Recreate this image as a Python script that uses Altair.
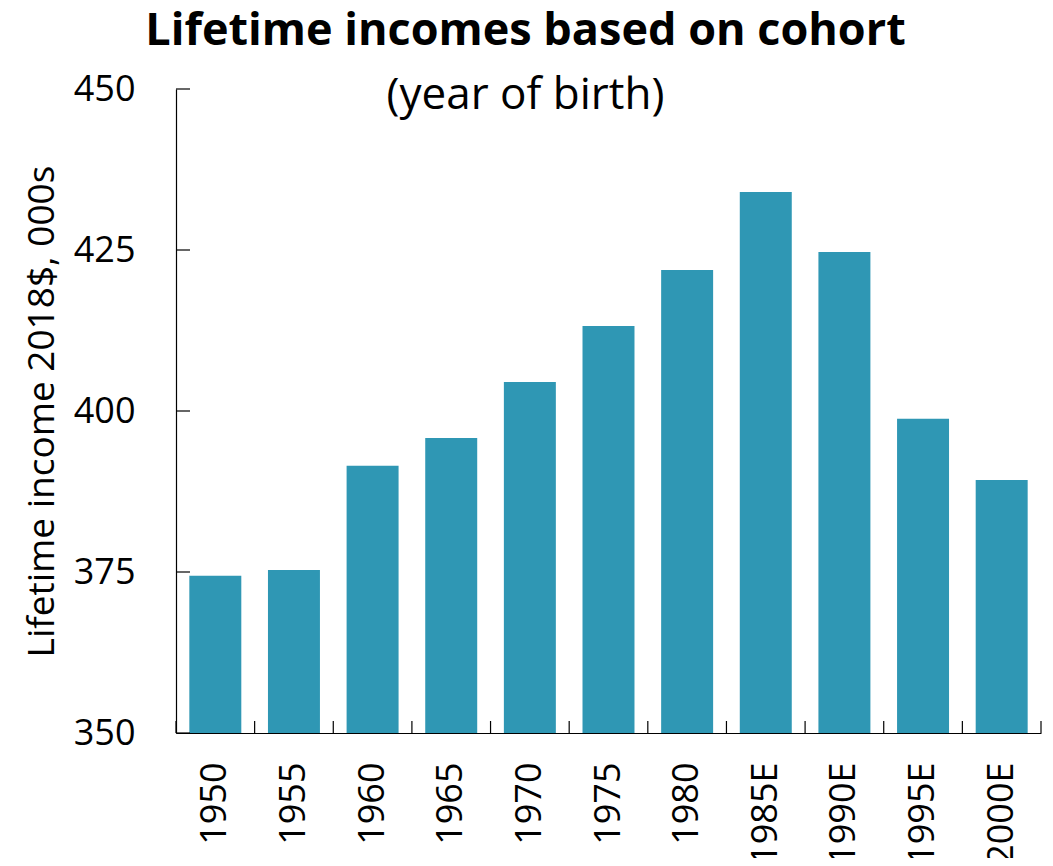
import altair as alt
import pandas as pd

cohorts = ["1950", "1955", "1960", "1965", "1970", "1975", "1980", "1985E", "1990E", "1995E", "2000E"]
incomes = [374.4, 375.3, 391.5, 395.8, 404.5, 413.2, 421.9, 434.0, 424.7, 398.8, 389.3]
y_ticks = [350, 375, 400, 425, 450]

W, H = 865, 644
PI = 0.339
FONT = "Open Sans"
BAR = "#2f97b4"
GAP = PI / 2 * W / len(cohorts)

df = pd.DataFrame({"cohort": cohorts, "income": incomes})
ticks_df = pd.DataFrame({"v": y_ticks})
last_df = pd.DataFrame({"cohort": cohorts[-1:]})

xscale = alt.Scale(domain=cohorts, paddingInner=PI, paddingOuter=PI / 2)
yscale = alt.Scale(domain=[350, 450], zero=False, nice=False)

bars = alt.Chart(df).mark_bar(color=BAR).encode(
    x=alt.X("cohort:N", sort=cohorts, scale=xscale,
            axis=alt.Axis(title=None, labelAngle=-90, labelPadding=29, ticks=False, grid=False,
                          labelFontSize=36, labelFont=FONT, labelColor="black",
                          domainColor="black", domainWidth=1.2)),
    y=alt.Y("income:Q", scale=yscale,
            axis=alt.Axis(title="Lifetime income 2018$, 000s", values=y_ticks, ticks=False,
                          grid=False,
                          labelFontSize=36, labelFont=FONT, labelColor="black",
                          labelPadding=41, titleFontSize=37, titleFont=FONT,
                          titleFontWeight="normal", titleColor="black", titlePadding=12,
                          domainColor="black", domainWidth=1.2)),
    y2=alt.datum(350),
)

xticks = alt.Chart(df).mark_rule(color="black", strokeWidth=1.2, xOffset=-GAP).encode(
    x=alt.X("cohort:N", sort=cohorts, scale=xscale, bandPosition=0),
    y=alt.value(H - 12), y2=alt.value(H),
)
xlast = alt.Chart(last_df).mark_rule(color="black", strokeWidth=1.2, xOffset=GAP).encode(
    x=alt.X("cohort:N", sort=cohorts, scale=xscale, bandPosition=1),
    y=alt.value(H - 12), y2=alt.value(H),
)
yticks = alt.Chart(ticks_df).mark_rule(color="black", strokeWidth=1.2).encode(
    y=alt.Y("v:Q", scale=yscale),
    x=alt.value(0), x2=alt.value(14),
)

chart = alt.layer(bars, xticks, xlast, yticks).properties(
    width=W, height=H,
    autosize=alt.AutoSizeParams(type="none"),
    padding={"left": 168, "top": 81, "right": 4, "bottom": 125},
    title=alt.TitleParams(
        text="Lifetime incomes based on cohort",
        subtitle="(year of birth)",
        font=FONT, fontSize=45, fontWeight="bold", color="black",
        subtitleFont=FONT, subtitleFontSize=44, subtitleColor="black",
        subtitlePadding=20,
        anchor="middle", frame="group", dx=-83, offset=-47,
    ),
).configure_view(stroke=None)

chart.save("out.html", embed_options={"renderer": "svg", "actions": False})
